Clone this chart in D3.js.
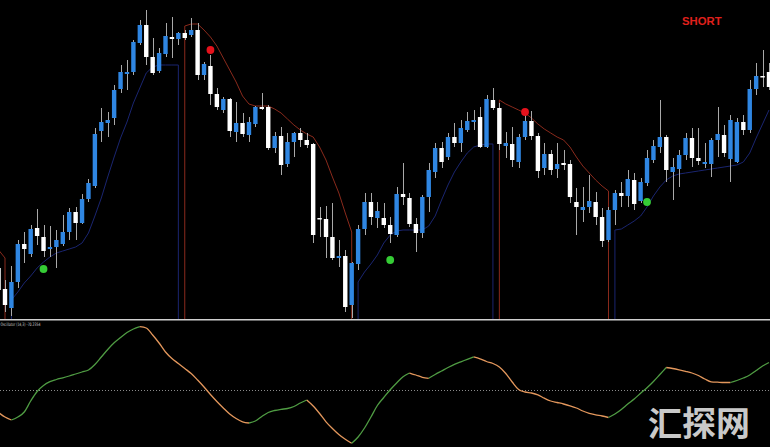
<!DOCTYPE html>
<html><head><meta charset="utf-8">
<script src="https://cdn.jsdelivr.net/npm/d3@7"></script>
<style>html,body{margin:0;padding:0;background:#000;overflow:hidden}</style>
</head><body>
<svg id="c" width="770" height="447"></svg>
<script>
// ---- DATA (bar index -1 .. 119) ----
const barIndex = d3.range(-1, 120);
const open  = [52,31,12,38,76,66,92,83,71,73,76,88,108,97,121,134,189,197,202,231,246,248,277,295,263,249,266,283,281,287,285,290,245,254,226,210,221,188,197,185,196,213,213,172,184,156,178,187,180,176,102,101,83,62,64,15,56,91,118,102,102,95,85,126,122,96,87,123,148,172,163,183,177,190,198,203,173,220,212,174,176,158,183,199,184,152,166,151,157,156,118,110,113,118,103,80,110,127,124,140,119,137,160,173,183,148,151,165,182,162,156,156,180,185,161,158,198,190,231,244,248];
const high  = [58,40,54,80,88,95,111,95,94,90,105,112,113,126,141,192,212,208,235,255,260,280,300,310,282,272,297,303,288,290,302,297,258,265,232,223,222,218,207,203,214,227,215,188,193,187,188,192,187,177,113,114,117,80,70,58,95,127,127,118,117,103,133,157,127,102,125,157,177,178,187,197,200,208,210,213,225,232,217,188,193,186,210,209,187,177,170,177,170,160,132,133,145,128,112,113,130,138,150,147,142,170,180,220,185,162,170,187,192,192,177,182,213,195,205,202,205,240,257,270,257];
const low   = [25,8,4,32,57,63,75,63,63,52,74,80,80,96,118,132,178,183,195,227,230,245,275,255,245,247,263,262,275,280,283,240,240,215,210,207,183,178,183,178,193,210,170,167,145,153,163,173,172,77,83,62,60,53,8,2,50,85,95,92,92,77,83,115,93,68,82,108,142,152,160,173,168,188,190,172,172,210,170,162,153,152,180,180,142,145,145,142,150,117,85,98,107,95,73,78,95,113,113,110,117,134,157,167,138,120,133,160,153,155,152,143,163,163,138,157,185,187,225,233,230];
const close = [30,15,38,76,71,91,84,69,73,80,88,108,97,121,137,186,198,200,230,248,248,278,295,263,247,267,284,281,287,282,290,245,256,226,213,221,189,197,186,198,213,211,172,184,155,178,187,180,175,85,101,83,62,64,13,57,91,118,103,109,95,86,126,123,96,87,123,150,172,158,183,177,192,199,200,173,221,212,176,177,160,183,199,184,149,166,150,156,155,123,113,113,119,103,79,110,127,124,141,116,138,162,174,183,150,153,165,182,162,159,158,180,186,167,200,198,190,231,244,243,233];

// trailing trend lines (null = not drawn)
const N = null;
const resistance = [70,62,N,N,N,N,N,N,N,N,N,N,N,N,N,N,N,N,N,N,N,N,N,N,N,N,N,N,N,294,296,296,290,283,274,262,250,238,224,216,214,214,214,211,207,201,195,190,186,183,173,160,143,127,107,88,N,N,N,N,N,N,N,N,N,N,N,N,N,N,N,N,N,N,N,N,N,N,220,216,213,210,207,202,196,191,187,183,180,173,163,154,147,140,134,129,N,N,N,N,N,N,N,N,N,N,N,N,N,N,N,N,N,N,N,N,N,N,N,N,N];
const support    = [N,N,20,28,37,44,52,58,63,67,69,71,73,77,87,104,122,143,163,182,198,217,232,247,253,255,255,255,255,N,N,N,N,N,N,N,N,N,N,N,N,N,N,N,N,N,N,N,N,N,N,N,N,N,N,N,38,48,56,65,77,85,89,90,90,90,90,94,104,120,135,148,158,167,173,175,176,176,N,N,N,N,N,N,N,N,N,N,N,N,N,N,N,N,N,N,90,91,95,99,104,113,124,133,140,144,146,147,148,149,150,151,152,153,154,155,158,167,182,196,210];

// signal dots
const sellIdx = [32, 81], sellPrice = [270, 208];
const buyIdx = [6, 60, 100], buyPrice = [51, 60, 118];

// oscillator
const osc = [-22,-26.5,-29.5,-26.5,-21.5,-10.5,-1,5,8.8,11,12.7,14.5,16.5,18.5,20.5,26,33.5,41,47.7,53,58,61.5,63.8,62.5,55.5,47.5,38.5,32,27,22,17,10.5,3.5,-4,-11,-17.5,-23.5,-28,-31.3,-32.5,-30.5,-26,-22,-20,-18.8,-18,-16,-12.5,-9.5,-15.5,-23,-31.3,-38,-44,-48.8,-52.8,-46.5,-37.5,-26.5,-15,-7,0.7,7.5,13.8,17.5,15.5,13.2,12.2,16,19.5,23,26.2,28.7,31.2,33.7,31.7,29,27,23.5,17,8.5,1,-1.5,-2.5,-4.3,-7.7,-10.5,-12,-13.5,-15.3,-17.5,-20.5,-22.8,-24.3,-25.5,-27,-23.5,-19,-13.5,-8.5,-2.8,2.7,9,16,23,22,20.7,19.2,17.5,15,11.5,8.7,8.3,8,8,10,12.5,15.5,20,24.5,28];

const signalText = "SHORT";
const oscLabel = "Oscillator (14,3) -70.2354";
const watermark = "汇探网";

// ---- SCALES ----
const svg = d3.select("#c");
const x = d3.scaleLinear().domain([0, 119]).range([5, 769]);
const y = d3.scaleLinear().domain([0, 320]).range([320, 0]);
const yo = d3.scaleLinear().domain([-55, 65]).range([445.5, 325.5]);
const bodyW = 4.4;
const panelBottom = 319;

svg.append("rect").attr("width", 770).attr("height", 447).attr("fill", "#000");

const main = svg.append("g");
main.append("clipPath").attr("id","mclip").append("rect").attr("x",0).attr("y",0).attr("width",770).attr("height",319);
const mg = main.append("g").attr("clip-path","url(#mclip)");

// trend lines
function drawTrend(arr, color) {
  let seg = [];
  const segs = [];
  arr.forEach((v, k) => {
    if (v !== null) seg.push({i: barIndex[k], v});
    else if (seg.length) { segs.push(seg); seg = []; }
  });
  if (seg.length) segs.push(seg);
  segs.forEach(s => {
    const pts = s.map(p => [x(p.i), y(p.v)]);
    if (s[0].i > -1) pts.unshift([x(s[0].i), panelBottom + 2]);
    if (s[s.length - 1].i < 119) pts.push([x(s[s.length - 1].i), panelBottom + 2]);
    mg.append("path").attr("d", d3.line()(pts)).attr("fill", "none")
      .attr("stroke", color).attr("stroke-width", 1);
  });
}
drawTrend(resistance, "#8a2a1c");
drawTrend(support, "#1a2570");

// candles
const bars = barIndex.map((i, k) => ({i, o: open[k], h: high[k], l: low[k], c: close[k]}));
mg.selectAll("line.wick").data(bars).join("line")
  .attr("x1", d => Math.round(x(d.i)) + 0.5).attr("x2", d => Math.round(x(d.i)) + 0.5)
  .attr("y1", d => y(d.h)).attr("y2", d => y(d.l))
  .attr("stroke", "#a9a9a9").attr("stroke-width", 1);
mg.selectAll("rect.body").data(bars).join("rect")
  .attr("x", d => x(d.i) - bodyW / 2)
  .attr("width", bodyW)
  .attr("y", d => y(Math.max(d.o, d.c)))
  .attr("height", d => Math.max(1.5, Math.abs(y(d.o) - y(d.c))))
  .attr("fill", d => d.c >= d.o ? "#2f86e2" : "#ffffff");

// signal dots
sellIdx.forEach((i, k) => mg.append("circle").attr("cx", x(i)).attr("cy", y(sellPrice[k])).attr("r", 3.9).attr("fill", "#e5121c"));
buyIdx.forEach((i, k) => mg.append("circle").attr("cx", x(i)).attr("cy", y(buyPrice[k])).attr("r", 3.9).attr("fill", "#35cc35"));

svg.append("text").attr("x", 682).attr("y", 24.5).text(signalText)
  .attr("font-family", "Liberation Sans, Arial, sans-serif").attr("font-weight", "bold")
  .attr("font-size", 11.3).attr("fill", "#e0201c");

// separator
svg.append("rect").attr("x", 0).attr("y", 319).attr("width", 770).attr("height", 1.5).attr("fill", "#cfcfcf");

// oscillator panel
svg.append("line").attr("x1", 0).attr("x2", 770).attr("y1", yo(0)).attr("y2", yo(0))
  .attr("stroke", "#8a8a8a").attr("stroke-width", 1).attr("stroke-dasharray", "1,2");

const oPts = barIndex.map((i, k) => ({i, v: osc[k]}));
let runs = [], cur = null, prevCol = null;
for (let k = 1; k < oPts.length; k++) {
  const d = oPts[k].v - oPts[k - 1].v;
  const col = d > 0 ? "up" : d < 0 ? "dn" : (prevCol || "dn");
  if (col !== prevCol) { cur = {col, pts: [oPts[k - 1]]}; runs.push(cur); prevCol = col; }
  cur.pts.push(oPts[k]);
}
const oLine = d3.line().x(p => x(p.i)).y(p => yo(p.v)).curve(d3.curveMonotoneX);
runs.forEach(r => svg.append("path").attr("d", oLine(r.pts)).attr("fill", "none")
  .attr("stroke", r.col === "up" ? "#4f9c43" : "#e3975c").attr("stroke-width", 1.3));

svg.append("text").attr("x", 0.5).attr("y", 326).text(oscLabel)
  .attr("textLength", 40).attr("lengthAdjust", "spacingAndGlyphs")
  .attr("font-family", "DejaVu Sans, sans-serif").attr("font-size", 4.6).attr("fill", "#cfcfcf");

svg.append("text").attr("x", 648).attr("y", 435.5).text(watermark)
  .attr("font-family", "Noto Sans CJK SC, sans-serif").attr("font-weight", "bold")
  .attr("font-size", 34).attr("fill", "#c9c9c9");
</script>
</body></html>
